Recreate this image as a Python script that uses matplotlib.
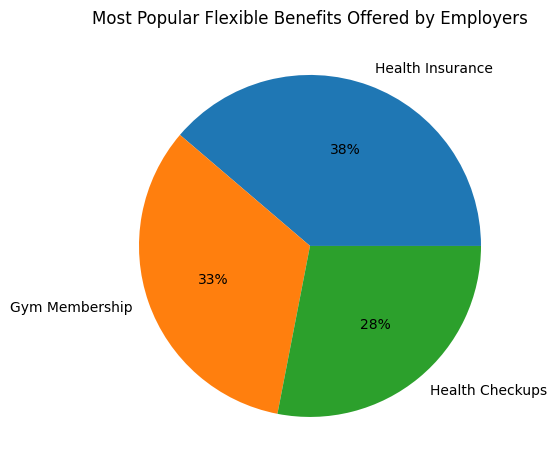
import matplotlib
matplotlib.use('Agg')
import matplotlib.pyplot as plt

labels = ['Health Insurance', 'Gym Membership', 'Health Checkups']
shares = [38.75, 33.2, 28.05]

fig = plt.figure(figsize=(5.57, 4.70), dpi=100)
ax = fig.add_axes([0.1728, 0.0219, 0.7675, 0.9096])
ax.pie(shares, labels=labels, autopct='%d%%')
ax.set_title('Most Popular Flexible Benefits Offered by Employers')
fig.savefig('out.png', dpi=100)
